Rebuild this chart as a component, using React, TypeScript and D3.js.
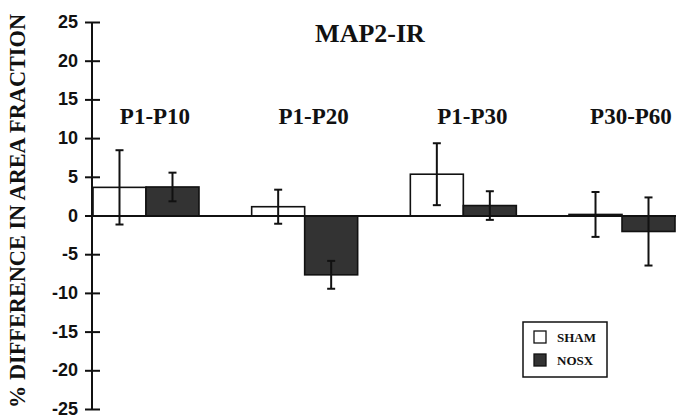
import React from 'react';
import * as d3 from 'd3';

// values
const groups = ['P1-P10', 'P1-P20', 'P1-P30', 'P30-P60'];
const series = ['SHAM', 'NOSX'];
const shamMean = [3.7, 1.2, 5.4, 0.2];
const shamErr = [4.8, 2.2, 4.0, 2.9];
const nosxMean = [3.75, -7.6, 1.35, -2.0];
const nosxErr = [1.85, 1.8, 1.85, 4.4];
const yTicks = [25, 20, 15, 10, 5, 0, -5, -10, -15, -20, -25];

const fills: Record<string, string> = { SHAM: '#ffffff', NOSX: '#333333' };

const width = 676;
const height = 419;
const serif = '"Liberation Serif", "Times New Roman", serif';
const sans = '"Liberation Sans", Arial, sans-serif';

const App = () => {
  const y = d3.scaleLinear().domain([-25, 25]).range([409.5, 22.5]);
  const x = d3.scaleBand<string>().domain(groups).range([93, 675]).paddingInner(0.332).paddingOuter(0);
  const xi = d3.scaleBand<string>().domain(series).range([0, x.bandwidth()]);
  const axisX = 92;

  const rows = groups.flatMap((g, i) => [
    { g, s: 'SHAM', v: shamMean[i], e: shamErr[i] },
    { g, s: 'NOSX', v: nosxMean[i], e: nosxErr[i] },
  ]);

  return (
    <svg width={width} height={height} style={{ position: 'absolute', left: 0, top: 0, background: '#fff' }}>
      {/* bars */}
      {rows.map((d, i) => {
        const x0 = (x(d.g) as number) + (xi(d.s) as number);
        return (
          <rect
            key={'b' + i}
            x={x0}
            y={y(Math.max(0, d.v))}
            width={xi.bandwidth()}
            height={Math.abs(y(d.v) - y(0))}
            fill={fills[d.s]}
            stroke="#111"
            strokeWidth={1.6}
          />
        );
      })}
      {/* zero line */}
      <line x1={axisX} x2={width} y1={y(0)} y2={y(0)} stroke="#111" strokeWidth={2} />
      {/* error bars */}
      {rows.map((d, i) => {
        const cx = (x(d.g) as number) + (xi(d.s) as number) + xi.bandwidth() / 2;
        const top = y(d.v + d.e);
        const bot = y(d.v - d.e);
        return (
          <g key={'e' + i} stroke="#111" strokeWidth={2}>
            <line x1={cx} x2={cx} y1={top} y2={bot} />
            <line x1={cx - 4} x2={cx + 4} y1={top} y2={top} />
            <line x1={cx - 4} x2={cx + 4} y1={bot} y2={bot} />
          </g>
        );
      })}
      {/* y axis */}
      <line x1={axisX} x2={axisX} y1={y(25)} y2={y(-25)} stroke="#111" strokeWidth={2} />
      {yTicks.map((t) => (
        <g key={t}>
          <line x1={axisX - 7} x2={axisX + 8} y1={y(t)} y2={y(t)} stroke="#111" strokeWidth={2} />
          <text x={78} y={y(t) + 5.5} textAnchor="end" fontFamily={sans} fontWeight="bold" fontSize={18} fill="#111">
            {t}
          </text>
        </g>
      ))}
      <text
        transform={`translate(25, ${(y(25) + y(-25)) / 2 - 5}) rotate(-90)`}
        textAnchor="middle"
        fontFamily={serif}
        fontWeight="bold"
        fontSize={22.3}
        fill="#111"
      >
        % DIFFERENCE IN AREA FRACTION
      </text>
      {/* title */}
      <text x={370} y={42} textAnchor="middle" fontFamily={serif} fontWeight="bold" fontSize={26} fill="#111">
        MAP2-IR
      </text>
      {/* group labels */}
      {groups.map((g) => (
        <text
          key={g}
          x={(x(g) as number) + x.bandwidth() / 2 + 9}
          y={124}
          textAnchor="middle"
          fontFamily={serif}
          fontWeight="bold"
          fontSize={23}
          fill="#111"
        >
          {g}
        </text>
      ))}
      {/* legend */}
      <rect x={523} y={322} width={84} height={55} fill="#fff" stroke="#111" strokeWidth={1.5} />
      {series.map((s, i) => (
        <g key={s} transform={`translate(534, ${331 + i * 23})`}>
          <rect width={12} height={12} fill={fills[s]} stroke="#111" strokeWidth={1.3} />
          <text x={23} y={11} fontFamily={serif} fontWeight="bold" fontSize={13} fill="#111">
            {s}
          </text>
        </g>
      ))}
    </svg>
  );
};

export default App;
